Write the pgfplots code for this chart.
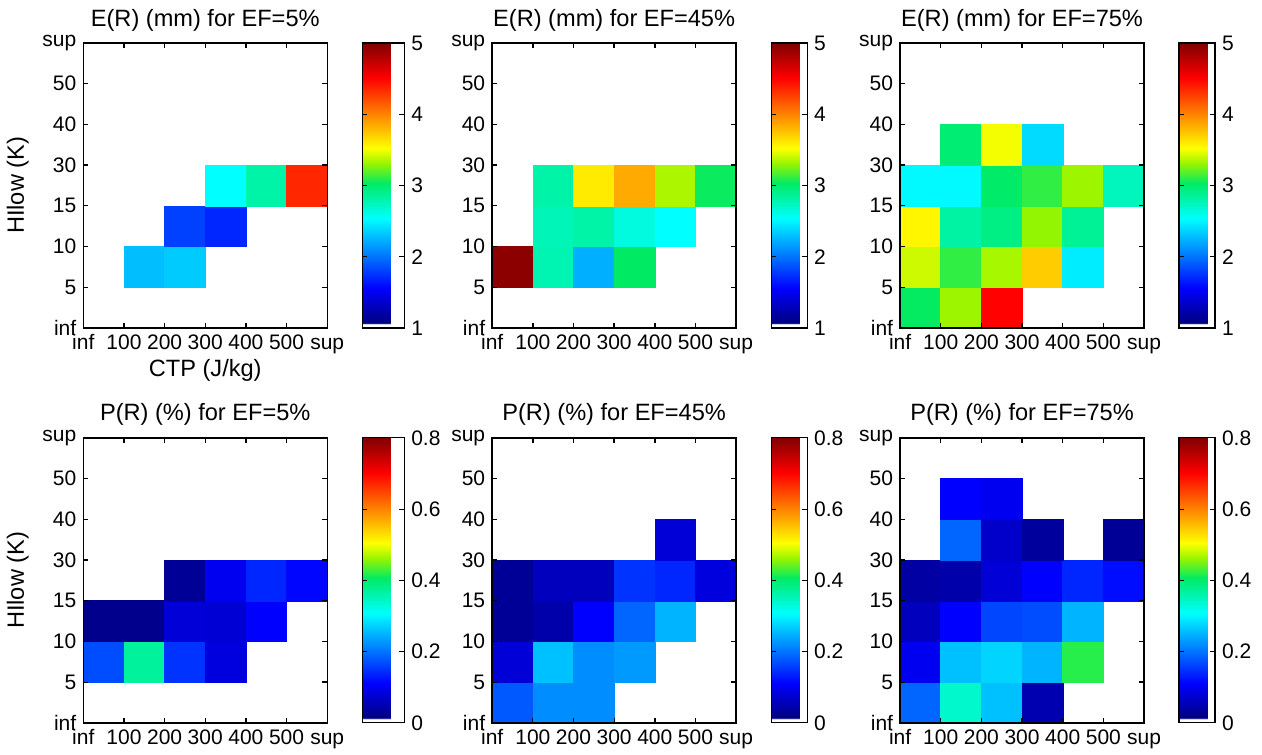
\documentclass[border=0pt]{standalone}
\usepackage{fontspec}
\setmainfont{Liberation Sans}
\usepackage{pgfplots}
\usepackage{pgfplotstable}
\pgfplotsset{compat=1.18}

\pgfplotsset{
  colormap={mjet}{rgb255(0pt)=(255,255,255) rgb255(7pt)=(255,255,255) rgb255(8pt)=(0,0,128) rgb255(71pt)=(0,0,255) rgb255(197pt)=(0,255,255) rgb255(260pt)=(0,235,100) rgb255(295pt)=(150,245,0) rgb255(323pt)=(255,255,0) rgb255(449pt)=(255,0,0) rgb255(512pt)=(128,0,0)},
  /pgf/number format/assume math mode=true,
  cell/.style={scatter, only marks, mark=square*, mark size=10.2pt,
    point meta=explicit,
    scatter/use mapped color={draw=mapped color, fill=mapped color},
    mark options={line width=0.2pt}},
  panel/.style={
    scale only axis, width=122pt, height=142.5pt,
    anchor=north west, clip=false,
    xmin=0, xmax=6, ymin=0, ymax=7,
    xtick={0,...,6}, xticklabels={inf,100,200,300,400,500,sup},
    ytick={0,...,7}, yticklabels={inf,5,10,15,30,40,50,sup},
    tick align=inside, major tick length=2.5pt,
    axis line style={black, line width=0.7pt},
    tick style={black, line width=0.7pt},
    colormap name=mjet,
    colorbar,
    colorbar shift/.style={xshift=17.5pt},
    colorbar style={at={(parent axis.north east)}, anchor=north west,
      width=18pt, tick align=inside, major tick length=2.5pt,
      axis line style={black, line width=0.6pt},
      tick style={black, line width=0.6pt},
      ytick pos=both, yticklabel pos=right,
      yticklabel style={font=\fontsize{10.5}{12}\selectfont}},
    tick label style={font=\fontsize{10.5}{12}\selectfont},
    xticklabel style={text height=0.72em, text depth=0.2em},
    title style={font=\fontsize{11.8}{13}\selectfont, yshift=-3.5pt},
    label style={font=\fontsize{11.8}{13}\selectfont},
    xlabel style={yshift=4pt},
    after end axis/.code={
      \fill[black] ([shift={(-0.35pt,-0.35pt)}]rel axis cs:0,0) rectangle ([shift={(0.35pt,0.35pt)}]rel axis cs:1,0);
      \fill[black] ([shift={(-0.35pt,-0.35pt)}]rel axis cs:0,1) rectangle ([shift={(0.35pt,0.35pt)}]rel axis cs:1,1);
      \fill[black] ([shift={(-0.35pt,-0.35pt)}]rel axis cs:0,0) rectangle ([shift={(0.35pt,0.35pt)}]rel axis cs:0,1);
      \fill[black] ([shift={(-0.35pt,-0.35pt)}]rel axis cs:1,0) rectangle ([shift={(0.35pt,0.35pt)}]rel axis cs:1,1);
      \foreach \i in {1,...,5} {
        \fill[black] ([shift={(-0.3pt,0pt)}]axis cs:\i,0) rectangle ([shift={(0.3pt,2.5pt)}]axis cs:\i,0);
        \fill[black] ([shift={(-0.3pt,-2.5pt)}]axis cs:\i,7) rectangle ([shift={(0.3pt,0pt)}]axis cs:\i,7);
      }
      \foreach \j in {1,...,6} {
        \fill[black] ([shift={(0pt,-0.3pt)}]axis cs:0,\j) rectangle ([shift={(2.5pt,0.3pt)}]axis cs:0,\j);
        \fill[black] ([shift={(-2.5pt,-0.3pt)}]axis cs:6,\j) rectangle ([shift={(0pt,0.3pt)}]axis cs:6,\j);
      }
    },
  },
  toprow/.style={point meta min=1, point meta max=5, colorbar style={ytick={1,2,3,4,5}}},
  botrow/.style={point meta min=0, point meta max=0.8, colorbar style={ytick={0,0.2,0.4,0.6,0.8}}},
}

\pgfplotstableread{
x y v
1.5 1.5 2.29
2.5 1.5 2.34
2.5 2.5 1.80
3.5 2.5 1.70
3.5 3.5 2.54
4.5 3.5 2.82
5.5 3.5 4.36
}\ERfive
\pgfplotstableread{
x y v
0.5 1.5 4.95
1.5 1.5 2.78
2.5 1.5 2.23
3.5 1.5 3.03
1.5 2.5 2.76
2.5 2.5 2.82
3.5 2.5 2.64
4.5 2.5 2.54
1.5 3.5 2.82
2.5 3.5 3.60
3.5 3.5 3.85
4.5 3.5 3.35
5.5 3.5 3.05
}\ERfortyfive
\pgfplotstableread{
x y v
0.5 0.5 3.04
1.5 0.5 3.32
2.5 0.5 4.50
0.5 1.5 3.42
1.5 1.5 3.12
2.5 1.5 3.34
3.5 1.5 3.72
4.5 1.5 2.47
0.5 2.5 3.56
1.5 2.5 2.83
2.5 2.5 2.93
3.5 2.5 3.30
4.5 2.5 2.87
0.5 3.5 2.52
1.5 3.5 2.52
2.5 3.5 3.02
3.5 3.5 3.12
4.5 3.5 3.32
5.5 3.5 2.75
1.5 4.5 2.98
2.5 4.5 3.50
3.5 4.5 2.40
}\ERseventyfive
\pgfplotstableread{
x y v
0.5 1.5 0.17
1.5 1.5 0.37
2.5 1.5 0.15
3.5 1.5 0.085
0.5 2.5 0.022
1.5 2.5 0.022
2.5 2.5 0.08
3.5 2.5 0.078
4.5 2.5 0.11
2.5 3.5 0.03
3.5 3.5 0.10
4.5 3.5 0.14
5.5 3.5 0.115
}\PRfive
\pgfplotstableread{
x y v
0.5 0.5 0.18
1.5 0.5 0.22
2.5 0.5 0.22
0.5 1.5 0.08
1.5 1.5 0.26
2.5 1.5 0.22
3.5 1.5 0.23
0.5 2.5 0.03
1.5 2.5 0.045
2.5 2.5 0.11
3.5 2.5 0.19
4.5 2.5 0.25
0.5 3.5 0.03
1.5 3.5 0.06
2.5 3.5 0.06
3.5 3.5 0.15
4.5 3.5 0.14
5.5 3.5 0.085
4.5 4.5 0.08
}\PRfortyfive
\pgfplotstableread{
x y v
0.5 0.5 0.19
1.5 0.5 0.34
2.5 0.5 0.26
3.5 0.5 0.05
0.5 1.5 0.10
1.5 1.5 0.26
2.5 1.5 0.275
3.5 1.5 0.25
4.5 1.5 0.42
0.5 2.5 0.06
1.5 2.5 0.11
2.5 2.5 0.165
3.5 2.5 0.17
4.5 2.5 0.25
0.5 3.5 0.04
1.5 3.5 0.045
2.5 3.5 0.08
3.5 3.5 0.11
4.5 3.5 0.14
5.5 3.5 0.12
1.5 4.5 0.19
2.5 4.5 0.07
3.5 4.5 0.035
5.5 4.5 0.03
1.5 5.5 0.11
2.5 5.5 0.10
}\PRseventyfive

\begin{document}
\begin{tikzpicture}
\begin{axis}[panel, toprow, at={(41.5pt,-21.5pt)}, colorbar style={width=21pt},
  title={E(R) (mm) for EF=5\%}, ylabel={HIlow (K)}, xlabel={CTP (J/kg)}]
\addplot[cell] table[x=x,y=y,meta=v] {\ERfive};
\end{axis}

\begin{axis}[panel, toprow, at={(246pt,-21.5pt)},
  title={E(R) (mm) for EF=45\%}]
\addplot[cell] table[x=x,y=y,meta=v] {\ERfortyfive};
\end{axis}

\begin{axis}[panel, toprow, at={(450pt,-21.5pt)},
  title={E(R) (mm) for EF=75\%}]
\addplot[cell] table[x=x,y=y,meta=v] {\ERseventyfive};
\end{axis}

\begin{axis}[panel, botrow, at={(41.5pt,-219pt)}, colorbar style={width=21pt},
  title={P(R) (\%) for EF=5\%}, ylabel={HIlow (K)}]
\addplot[cell] table[x=x,y=y,meta=v] {\PRfive};
\end{axis}

\begin{axis}[panel, botrow, at={(246pt,-219pt)},
  title={P(R) (\%) for EF=45\%}]
\addplot[cell] table[x=x,y=y,meta=v] {\PRfortyfive};
\end{axis}

\begin{axis}[panel, botrow, at={(450pt,-219pt)},
  title={P(R) (\%) for EF=75\%}]
\addplot[cell] table[x=x,y=y,meta=v] {\PRseventyfive};
\end{axis}

\path (0pt,0pt) rectangle (631pt,-377pt);
\end{tikzpicture}
\end{document}
